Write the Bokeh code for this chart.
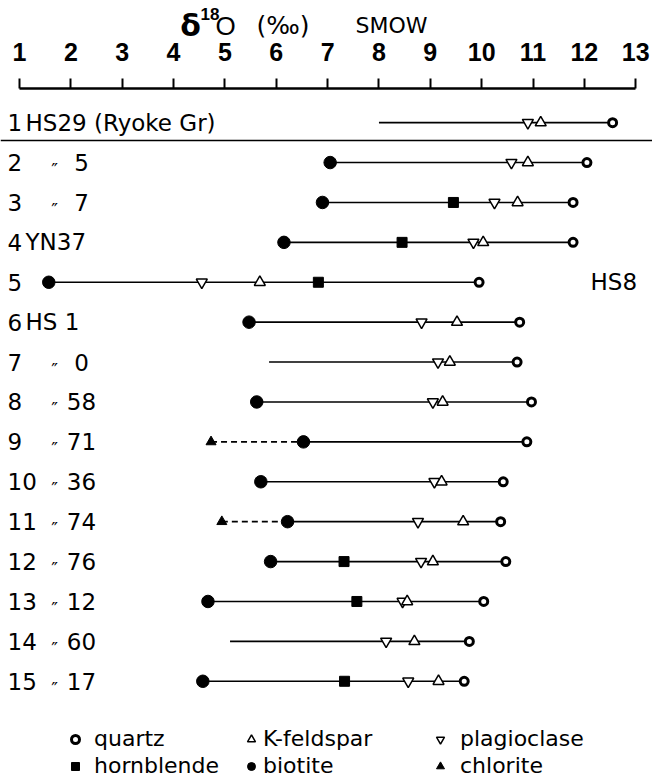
import numpy as np
from bokeh.plotting import figure
from bokeh.models import (Range1d, LinearAxis, FixedTicker, Span, Label,
                          ColumnDataSource, Legend, LegendItem)
from bokeh.core.properties import value
from bokeh.embed import file_html
from bokeh.resources import INLINE

nan = np.nan

# ---------------- data ----------------
rows = list(range(1, 16))
row_num = [str(r) for r in rows]
row_name = ["HS29 (Ryoke Gr)", "", "", "YN37", "", "HS 1", "", "", "", "", "", "", "", "", ""]
row_ditto = ["", "″", "″", "", "", "", "″", "″", "″", "″", "″", "″", "″", "″", "″"]
row_sample = ["", "5", "7", "", "", "", "0", "58", "71", "36", "74", "76", "12", "60", "17"]
side_rows = [5]
side_text = ["HS8"]

quartz      = [12.55, 12.05, 11.78, 11.78, 9.95, 10.74, 10.69, 10.97, 10.88, 10.42, 10.37, 10.47, 10.04, 9.76, 9.66]
kfeldspar   = [11.15, 10.90, 10.70, 10.03, 5.68, 9.52, 9.38, 9.24, nan, 9.22, 9.64, 9.05, 8.55, 8.69, 9.16]
plagioclase = [10.90, 10.58, 10.25, 9.84, 4.55, 8.83, 9.15, 9.05, nan, 9.08, 8.76, 8.82, 8.46, 8.14, 8.57]
hornblende  = [nan, nan, 9.45, 8.45, 6.82, nan, nan, nan, nan, nan, nan, 7.32, 7.57, nan, 7.33]
biotite     = [nan, 7.05, 6.90, 6.15, 1.57, 5.47, nan, 5.62, 6.53, 5.70, 6.22, 5.89, 4.67, nan, 4.57]
chlorite    = [nan, nan, nan, nan, nan, nan, nan, nan, 4.73, nan, 4.94, nan, nan, nan, nan]
range_start = [8.00, nan, nan, nan, nan, nan, 5.86, nan, nan, nan, nan, nan, nan, 5.10, nan]

ticks = list(range(1, 14))

# ---------------- derived ----------------
stack = np.array([range_start, kfeldspar, plagioclase, hornblende, biotite, quartz], dtype=float)
line_lo = np.nanmin(stack, axis=0)
line_hi = np.array(quartz, dtype=float)

chl = np.array(chlorite, dtype=float)
bio = np.array(biotite, dtype=float)
has_chl = ~np.isnan(chl)
dash_src = ColumnDataSource(dict(x0=chl[has_chl], x1=bio[has_chl],
                                 y=np.array(rows)[has_chl]))
line_src = ColumnDataSource(dict(x0=line_lo, x1=line_hi, y=rows))

# ---------------- figure ----------------
W, H = 652, 778
X0, X1 = 0.630, 13.327
Y_TOP, Y_BOT = -2.0615, 17.4365
AXIS_Y = 0.1468
p = figure(width=W, height=H, x_range=Range1d(X0, X1),
           y_range=Range1d(Y_BOT, Y_TOP),
           output_backend="svg", toolbar_location=None,
           x_axis_location=None, y_axis_location=None,
           min_border_left=0, min_border_right=0,
           min_border_top=0, min_border_bottom=0,
           outline_line_color=None, background_fill_color="white",
           border_fill_color="white")
p.xgrid.visible = False
p.ygrid.visible = False

TICKFONT = "Liberation Sans"
ax = LinearAxis(ticker=FixedTicker(ticks=ticks), bounds=(1, 13), fixed_location=AXIS_Y)
ax.axis_line_width = 2.5
ax.axis_line_color = "black"
ax.major_tick_out = 10
ax.major_tick_in = 0
ax.major_tick_line_width = 2
ax.minor_tick_out = 0
ax.minor_tick_in = 0
ax.major_label_standoff = 18
ax.major_label_text_font = TICKFONT
ax.major_label_text_font_style = "bold"
ax.major_label_text_font_size = "25px"
ax.major_label_text_color = "black"
p.add_layout(ax, "above")

# separator under row 1
p.add_layout(Span(location=1.45, dimension="width", line_color="black", line_width=1.5))

# range lines
p.segment(x0="x0", y0="y", x1="x1", y1="y", source=line_src, line_color="black", line_width=1.6)
p.segment(x0="x0", y0="y", x1="x1", y1="y", source=dash_src, line_color="black",
          line_width=1.6, line_dash="6 4")

r_bio = p.scatter(x=biotite, y=rows, marker="circle", size=12.5, fill_color="black", line_color="black")
r_hbl = p.scatter(x=hornblende, y=rows, marker="square", size=10, fill_color="black", line_color="black")
r_chl = p.scatter(x=chlorite, y=rows, marker="triangle", size=10, fill_color="black", line_color="black")
r_plg = p.scatter(x=plagioclase, y=rows, marker="inverted_triangle", size=11, fill_color="white",
                  line_color="black", line_width=1.5)
r_kfs = p.scatter(x=kfeldspar, y=rows, marker="triangle", size=11, fill_color="white",
                  line_color="black", line_width=1.5)
r_qtz = p.scatter(x=quartz, y=rows, marker="circle", size=8, fill_color="white",
                  line_color="black", line_width=3)

# row labels
LABFONT = value("DejaVu Sans")
lab_src = ColumnDataSource(dict(x=[X0] * len(rows), y=rows, num=row_num, name=row_name,
                                ditto=row_ditto, sample=row_sample))
p.text(x="x", y="y", text="num", source=lab_src, x_offset=7, text_font=LABFONT,
       text_font_size="23px", text_baseline="middle", text_align="left", text_color="black")
p.text(x="x", y="y", text="name", source=lab_src, x_offset=25, text_font=LABFONT,
       text_font_size="23px", text_baseline="middle", text_align="left", text_color="black")
p.text(x="x", y="y", text="ditto", source=lab_src, x_offset=54, y_offset=7, text_font=LABFONT,
       text_font_size="18px", text_baseline="middle", text_align="center", text_color="black")
p.text(x="x", y="y", text="sample", source=lab_src, x_offset=81, text_font=LABFONT,
       text_font_size="23px", text_baseline="middle", text_align="center", text_color="black")
p.text(x=[X1] * len(side_rows), y=side_rows, text=side_text, x_offset=-62, text_font=LABFONT,
       text_font_size="23px", text_baseline="middle", text_align="left", text_color="black")

# title (screen units relative to the frame: x from left, y from bottom)
def sy(page_y):
    return H - page_y

BASE = 25
p.add_layout(Label(x=190, y=sy(BASE), x_units="screen", y_units="screen", text="δ",
                   text_align="center", text_baseline="alphabetic", text_font="DejaVu Sans",
                   text_font_style="bold", text_font_size="30px", text_color="black"))
p.add_layout(Label(x=200, y=sy(7), x_units="screen", y_units="screen", text="18",
                   text_align="left", text_baseline="top", text_font=TICKFONT,
                   text_font_style="bold", text_font_size="17px", text_color="black"))
p.add_layout(Label(x=215, y=sy(BASE), x_units="screen", y_units="screen", text="O",
                   text_align="left", text_baseline="alphabetic", text_font=TICKFONT,
                   text_font_size="26px", text_color="black"))
p.add_layout(Label(x=256, y=sy(BASE), x_units="screen", y_units="screen", text="(‰)",
                   text_align="left", text_baseline="alphabetic", text_font="DejaVu Sans",
                   text_font_size="25px", text_color="black"))
p.add_layout(Label(x=391, y=sy(BASE), x_units="screen", y_units="screen", text="SMOW",
                   text_align="center", text_baseline="alphabetic", text_font="DejaVu Sans",
                   text_font_size="22px", text_color="black"))

# legend: three columns
def make_legend(items, x, standoff):
    lg = Legend(items=items, location=(x, 0), orientation="vertical",
                glyph_width=20, glyph_height=24, label_height=24, spacing=2,
                label_standoff=standoff, padding=0, margin=0,
                border_line_color=None, background_fill_alpha=0,
                label_text_font="DejaVu Sans", label_text_font_size="22px",
                label_text_color="black")
    p.add_layout(lg, "center")

make_legend([LegendItem(label="quartz", renderers=[r_qtz]),
             LegendItem(label="hornblende", renderers=[r_hbl])], 65, 9)
make_legend([LegendItem(label="K-feldspar", renderers=[r_kfs]),
             LegendItem(label="biotite", renderers=[r_bio])], 241, 2)
make_legend([LegendItem(label="plagioclase", renderers=[r_plg]),
             LegendItem(label="chlorite", renderers=[r_chl])], 430, 10)

open("out.html", "w").write(file_html(p, INLINE))
